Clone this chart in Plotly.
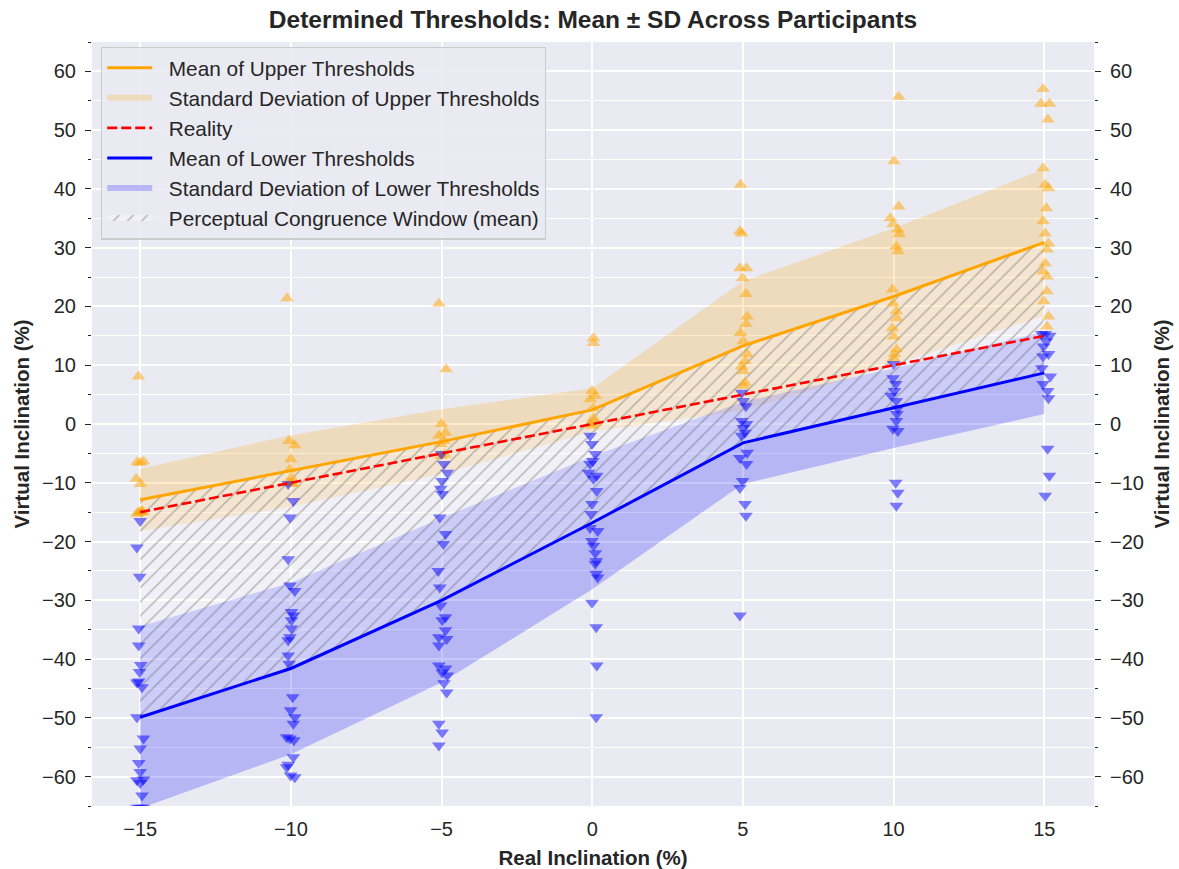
import plotly.graph_objects as go

# ---------------- data ----------------
xs = [-15, -10, -5, 0, 5, 10, 15]
upper_mean = [-12.9, -8.0, -3.0, 2.4, 13.3, 21.7, 30.9]
upper_sd = [5.3, 6.1, 5.5, 3.7, 11.0, 11.6, 12.5]
lower_mean = [-49.9, -41.6, -30.0, -16.8, -3.2, 2.7, 8.7]
lower_sd = [15.5, 14.6, 14.0, 11.3, 7.0, 6.8, 7.0]
reality = [-15, -10, -5, 0, 5, 10, 15]

# individual participant thresholds per real inclination
upper_points = [
    [8.1, -6.5, -6.6, -6.4, -9.3, -10.2, -14.8, -15.3, -15.0, -15.0, -15.0],
    [21.4, -2.9, -3.6, -6.0, -7.7, -9.1, -10.0, -10.2, -10.0],
    [20.5, 9.3, 0.0, -1.5, -2.0, -2.9, -3.4, -5.4, -5.2],
    [14.6, 13.8, 5.6, 4.8, 4.2, 2.7, 1.0, 0.2, -0.3, 0.0],
    [40.7, 32.8, 32.4, 26.5, 26.5, 24.8, 22.1, 18.3, 17.0, 15.5, 14.1, 11.9, 10.7, 9.8, 9.0, 7.0, 6.5],
    [55.7, 44.7, 37.0, 35.0, 34.0, 33.1, 32.3, 30.2, 29.4, 22.9, 20.5, 19.2, 18.0, 16.3, 14.9, 12.7, 11.9, 11.2],
    [57.0, 54.5, 54.5, 51.8, 43.5, 40.7, 40.1, 36.7, 34.5, 32.4, 30.7, 29.7, 27.3, 26.0, 25.1, 22.6, 20.9, 18.3, 16.6],
]
upper_jitter = [
    [-0.06, -0.11, 0.0, 0.11, -0.13, 0.0, 0.06, -0.11, 0.0, -0.06, 0.09],
    [-0.13, -0.06, 0.13, 0.0, -0.03, 0.02, -0.09, 0.08, 0.0],
    [-0.09, 0.15, 0.0, 0.13, -0.09, 0.08, -0.03, -0.03, 0.1],
    [0.04, 0.04, -0.01, 0.1, -0.07, 0.02, 0.04, 0.1, -0.01, -0.07],
    [-0.08, -0.1, -0.04, -0.1, 0.12, -0.01, 0.1, 0.14, 0.1, -0.08, 0.01, 0.14, 0.07, -0.04, 0.01, 0.07, 0.01],
    [0.17, 0.01, 0.17, -0.11, -0.02, 0.14, 0.18, 0.09, 0.14, -0.04, -0.02, 0.09, 0.11, -0.04, 0.0, 0.09, 0.03, 0.0],
    [-0.04, -0.11, 0.17, 0.12, -0.04, 0.03, 0.14, 0.07, -0.04, 0.03, 0.14, 0.09, 0.03, -0.04, 0.09, 0.09, -0.02, 0.14, 0.09],
]
lower_points = [
    [-16.5, -21.0, -26.0, -34.8, -37.7, -41.0, -42.2, -44.0, -43.8, -44.8, -49.9, -53.5, -55.2, -57.7,
     -59.2, -60.6, -61.1, -60.5, -63.2, -65.3, -65.3, -65.3],
    [-10.2, -13.1, -15.9, -23.0, -27.5, -28.4, -32.0, -32.6, -33.4, -34.8, -36.3, -36.8, -39.4, -40.8,
     -46.5, -48.7, -49.9, -51.0, -53.3, -53.5, -53.8, -56.7, -58.0, -58.4, -59.8, -60.1],
    [-5.1, -6.8, -8.3, -9.7, -11.0, -11.9, -15.9, -18.7, -20.4, -25.0, -27.8, -30.9, -32.9, -33.4,
     -35.1, -36.3, -36.6, -37.7, -41.1, -41.6, -42.3, -42.8, -44.1, -45.7, -51.0, -52.5, -54.7],
    [-2.0, -3.4, -5.1, -6.3, -6.8, -8.3, -8.8, -9.3, -11.4, -13.6, -15.3, -17.7, -18.2, -19.9, -20.7,
     -22.0, -23.3, -23.8, -25.5, -26.1, -30.4, -34.6, -41.1, -49.9],
    [5.3, 3.9, 3.0, 0.5, 0.0, -0.7, -1.5, -2.0, -4.9, -5.8, -6.8, -9.7, -10.9, -13.6, -15.6, -32.6],
    [10.2, 7.8, 6.8, 5.6, 4.8, 3.9, 2.7, 1.7, 0.5, -0.8, -1.2, -10.0, -11.7, -13.9],
    [15.3, 15.3, 15.0, 14.1, 13.2, 11.9, 11.5, 9.5, 8.1, 6.8, 5.6, 4.4, -4.2, -8.8, -12.2],
]
lower_jitter = [
    [0.0, -0.11, -0.02, -0.05, -0.05, 0.02, -0.02, -0.11, -0.05, 0.06, -0.11, 0.11, 0.0, -0.05, 0.0,
     -0.11, 0.0, 0.11, 0.06, -0.1, 0.0, 0.1],
    [-0.09, 0.08, -0.03, -0.09, -0.03, 0.13, 0.02, 0.08, 0.02, 0.02, -0.03, -0.09, -0.09, -0.06, 0.06,
     -0.01, 0.13, 0.08, -0.14, -0.03, 0.1, 0.08, -0.09, -0.14, -0.01, 0.13],
    [0.0, 0.08, 0.19, 0.02, -0.03, 0.02, -0.06, 0.13, 0.06, -0.11, -0.06, -0.03, 0.13, 0.02, 0.13, -0.09,
     0.17, -0.09, -0.09, 0.13, 0.02, 0.19, 0.08, 0.17, -0.09, 0.02, -0.09],
    [-0.07, -0.01, 0.1, 0.02, -0.07, -0.12, 0.15, 0.04, 0.15, -0.01, -0.04, -0.07, 0.18, -0.01, 0.04,
     0.1, 0.13, 0.1, 0.13, 0.18, -0.01, 0.13, 0.15, 0.13],
    [-0.04, 0.01, 0.1, -0.04, 0.12, 0.01, 0.07, -0.04, 0.14, -0.1, 0.12, -0.01, -0.1, 0.07, 0.1, -0.1],
    [0.0, -0.02, 0.07, 0.03, -0.08, 0.09, 0.14, 0.11, 0.09, -0.02, 0.14, 0.07, 0.14, 0.09],
    [-0.08, 0.03, 0.18, 0.07, -0.02, 0.14, -0.04, -0.08, 0.2, -0.04, 0.11, 0.14, 0.11, 0.17, 0.03],
]

y_ticks = [-60, -50, -40, -30, -20, -10, 0, 10, 20, 30, 40, 50, 60]
x_ticks = [-15, -10, -5, 0, 5, 10, 15]

# ---------------- styling ----------------
FONT = "Liberation Sans, Arial, sans-serif"
TXT = "#262626"
BG = "#EAEAF2"
ORANGE = "#FFA500"
BLUE = "#0000FF"
PAD = "\u00a0\u00a0"

fig = go.Figure()


def band(mean, sd):
    up = [m + s for m, s in zip(mean, sd)]
    lo = [m - s for m, s in zip(mean, sd)]
    return xs + xs[::-1], up + lo[::-1]


bx, by = band(upper_mean, upper_sd)
fig.add_trace(go.Scatter(x=bx, y=by, fill="toself", mode="none",
                         fillcolor="rgba(255,165,0,0.22)",
                         name=PAD + "Standard Deviation of Upper Thresholds",
                         legendgroup="g2", legendrank=2, hoverinfo="skip"))
bx, by = band(lower_mean, lower_sd)
fig.add_trace(go.Scatter(x=bx, y=by, fill="toself", mode="none",
                         fillcolor="rgba(0,0,255,0.22)",
                         name=PAD + "Standard Deviation of Lower Thresholds",
                         legendgroup="g5", legendrank=5, hoverinfo="skip"))

# Perceptual congruence window (between mean thresholds), hatched
fig.add_trace(go.Scatter(x=xs + xs[::-1], y=upper_mean + lower_mean[::-1],
                         fill="toself", mode="none",
                         fillcolor="rgba(255,255,255,0.35)",
                         fillpattern=dict(shape="/", fgcolor="rgba(60,60,60,0.6)",
                                          bgcolor="rgba(255,255,255,0.3)",
                                          size=10, solidity=0.16),
                         name=PAD + "Perceptual Congruence Window (mean)",
                         legendgroup="g6", legendrank=6, hoverinfo="skip"))

# participant points
for xv, pts, jit in zip(xs, upper_points, upper_jitter):
    fig.add_trace(go.Scatter(x=[xv + j for j in jit], y=pts, mode="markers",
                             marker=dict(symbol="triangle-up", size=12, color=ORANGE,
                                         opacity=0.5, line=dict(width=0)),
                             showlegend=False, hoverinfo="skip"))
for xv, pts, jit in zip(xs, lower_points, lower_jitter):
    fig.add_trace(go.Scatter(x=[xv + j for j in jit], y=pts, mode="markers",
                             marker=dict(symbol="triangle-down", size=12, color=BLUE,
                                         opacity=0.5, line=dict(width=0)),
                             showlegend=False, hoverinfo="skip"))

fig.add_trace(go.Scatter(x=xs, y=reality, mode="lines",
                         line=dict(color="#FF0000", width=2.6, dash="10px,4px"),
                         name=PAD + "Reality", legendgroup="g3", legendrank=3))
fig.add_trace(go.Scatter(x=xs, y=upper_mean, mode="lines",
                         line=dict(color=ORANGE, width=3),
                         name=PAD + "Mean of Upper Thresholds", legendgroup="g1", legendrank=1))
fig.add_trace(go.Scatter(x=xs, y=lower_mean, mode="lines",
                         line=dict(color=BLUE, width=3),
                         name=PAD + "Mean of Lower Thresholds", legendgroup="g4", legendrank=4))

# invisible trace to anchor the right-hand axis
fig.add_trace(go.Scatter(x=[xs[0]], y=[0], yaxis="y2", mode="markers",
                         marker=dict(opacity=0), showlegend=False, hoverinfo="skip"))


def yaxis_style(standoff):
    return dict(
        range=[-65, 65], tickvals=y_ticks, ticks="outside", ticklen=6, tickwidth=1.2,
        tickcolor=TXT, tickfont=dict(size=20, color=TXT, family=FONT), ticklabelstandoff=5,
        showline=False, zeroline=False, automargin=False,
        title=dict(text="<b>Virtual Inclination (%)</b>",
                   font=dict(size=20.5, color=TXT, family=FONT), standoff=standoff),
        minor=dict(dtick=5, tick0=0, ticks="outside", ticklen=3, tickwidth=1, tickcolor=TXT,
                   showgrid=True, gridcolor="white", gridwidth=0.8),
    )


fig.update_layout(
    width=1179, height=869,
    paper_bgcolor="white", plot_bgcolor=BG,
    margin=dict(l=92, r=85, t=42, b=63, autoexpand=False),
    font=dict(family=FONT, color=TXT),
    title=dict(text="<b>Determined Thresholds: Mean ± SD Across Participants</b>",
               x=0.5, xanchor="center", xref="paper", y=1 - 19 / 869, yref="container",
               yanchor="middle", font=dict(size=24.5, color=TXT, family=FONT)),
    xaxis=dict(range=[-16.6, 16.65], tickvals=x_ticks, ticks="outside", ticklen=5,
               tickcolor="rgba(0,0,0,0)", tickfont=dict(size=20, color=TXT, family=FONT),
               showgrid=True, gridcolor="white", gridwidth=1.6, zeroline=False, showline=False,
               automargin=False,
               title=dict(text="<b>Real Inclination (%)</b>",
                          font=dict(size=20.5, color=TXT, family=FONT), standoff=11)),
    yaxis=dict(showgrid=True, gridcolor="white", gridwidth=1.6, **yaxis_style(6)),
    yaxis2=dict(overlaying="y", side="right", showgrid=False, **yaxis_style(11)),
    legend=dict(x=0.009, y=0.994, xanchor="left", yanchor="top",
                bgcolor="rgba(234,234,242,0.85)", bordercolor="#CCCCCC", borderwidth=1.2,
                font=dict(size=20.8, color=TXT, family=FONT),
                itemwidth=45, tracegroupgap=0, traceorder="grouped"),
    showlegend=True,
)
fig.update_layout(yaxis2_minor_showgrid=False)

fig.write_html("out.html", config={"displayModeBar": False},
               post_script="document.body.style.margin='0px';")
